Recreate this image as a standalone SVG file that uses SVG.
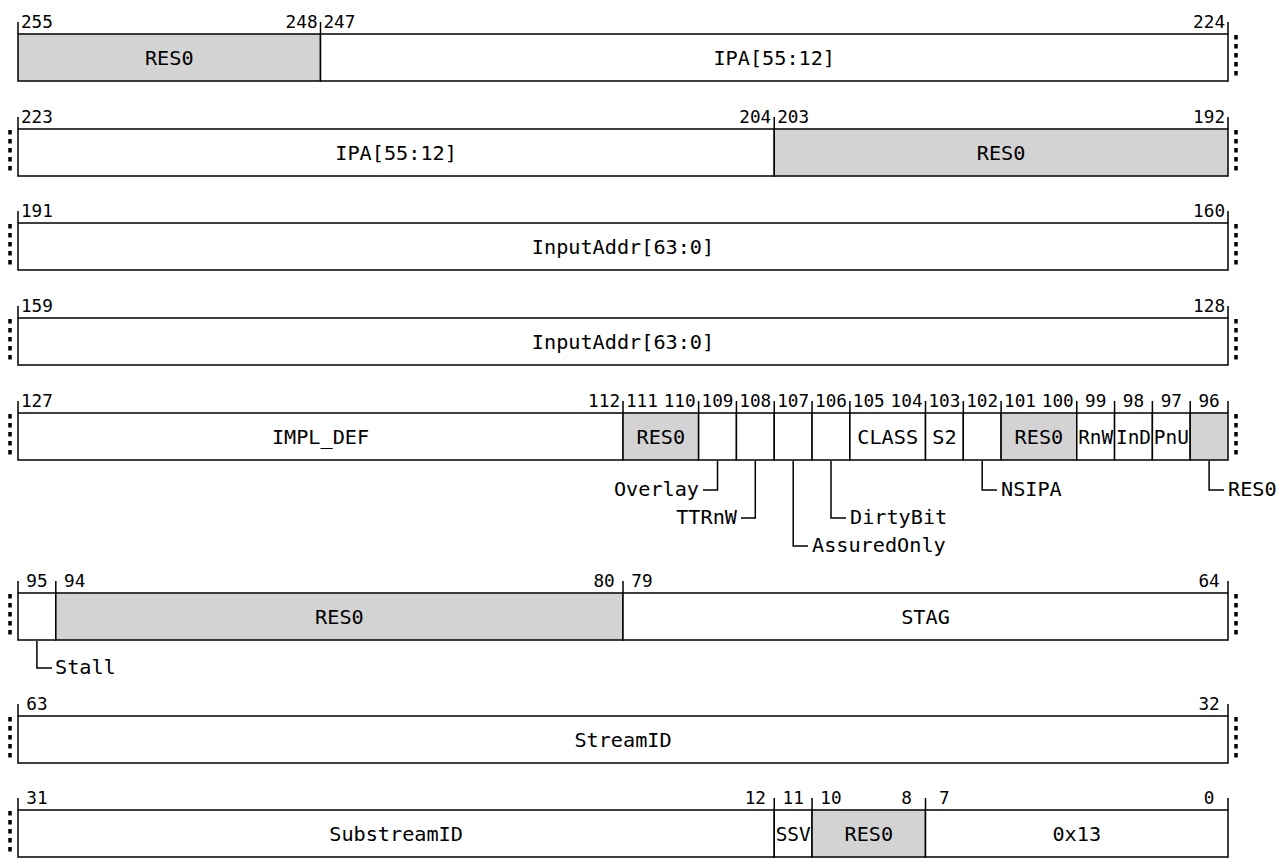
<svg xmlns="http://www.w3.org/2000/svg" width="1280" height="866" viewBox="0 0 1280 866">
<style>
.f{fill:#ffffff;stroke:#000;stroke-width:1.5}
.r{fill:#d3d3d3;stroke:#000;stroke-width:1.5}
.t{stroke:#000;stroke-width:1.5;fill:none}
.d{stroke:#000;stroke-width:3.5;stroke-dasharray:4.5 4.5;fill:none}
.n{font-family:"DejaVu Sans Mono",monospace;font-size:17.7px;fill:#000;text-anchor:middle}
.l{font-family:"DejaVu Sans Mono",monospace;font-size:20.2px;fill:#000;text-anchor:middle}
.c{font-family:"DejaVu Sans Mono",monospace;font-size:20.2px;fill:#000}
</style>
<rect width="1280" height="866" fill="#ffffff"/>

<g id="row1">
<rect class="r" x="18" y="34" width="302.5" height="47"/>
<rect class="f" x="320.5" y="34" width="907.5" height="47"/>
<path class="t" d="M18,22V34M320.5,22V34M1228,22V34"/>
<path class="d" d="M1236,35V79"/>
<text class="n" x="36.9" y="28">255</text><text class="n" x="301.6" y="28">248</text><text class="n" x="339.4" y="28">247</text><text class="n" x="1209.1" y="28">224</text>
<text class="l" x="169.25" y="65">RES0</text><text class="l" x="774.25" y="65">IPA[55:12]</text>
</g>

<g id="row2">
<rect class="f" x="18" y="129" width="756.25" height="47"/>
<rect class="r" x="774.25" y="129" width="453.75" height="47"/>
<path class="t" d="M18,117V129M774.25,117V129M1228,117V129"/>
<path class="d" d="M10,130V174M1236,130V174"/>
<text class="n" x="36.9" y="123">223</text><text class="n" x="755.3" y="123">204</text><text class="n" x="793.2" y="123">203</text><text class="n" x="1209.1" y="123">192</text>
<text class="l" x="396.1" y="160">IPA[55:12]</text><text class="l" x="1001.1" y="160">RES0</text>
</g>

<g id="row3">
<rect class="f" x="18" y="223" width="1210" height="47"/>
<path class="t" d="M18,211V223M1228,211V223"/>
<path class="d" d="M10,224V268M1236,224V268"/>
<text class="n" x="36.9" y="217">191</text><text class="n" x="1209.1" y="217">160</text>
<text class="l" x="623" y="254">InputAddr[63:0]</text>
</g>

<g id="row4">
<rect class="f" x="18" y="318" width="1210" height="47"/>
<path class="t" d="M18,306V318M1228,306V318"/>
<path class="d" d="M10,319V363M1236,319V363"/>
<text class="n" x="36.9" y="312">159</text><text class="n" x="1209.1" y="312">128</text>
<text class="l" x="623" y="349">InputAddr[63:0]</text>
</g>

<g id="row5">
<rect class="f" x="18" y="413" width="605" height="47"/>
<rect class="r" x="623" y="413" width="75.63" height="47"/>
<rect class="f" x="698.63" y="413" width="37.81" height="47"/>
<rect class="f" x="736.44" y="413" width="37.81" height="47"/>
<rect class="f" x="774.25" y="413" width="37.81" height="47"/>
<rect class="f" x="812.06" y="413" width="37.82" height="47"/>
<rect class="f" x="849.88" y="413" width="75.62" height="47"/>
<rect class="f" x="925.5" y="413" width="37.81" height="47"/>
<rect class="f" x="963.31" y="413" width="37.82" height="47"/>
<rect class="r" x="1001.13" y="413" width="75.62" height="47"/>
<rect class="f" x="1076.75" y="413" width="37.81" height="47"/>
<rect class="f" x="1114.56" y="413" width="37.82" height="47"/>
<rect class="f" x="1152.38" y="413" width="37.81" height="47"/>
<rect class="r" x="1190.19" y="413" width="37.81" height="47"/>
<path class="t" d="M18,401V413M623,401V413M698.63,401V413M736.44,401V413M774.25,401V413M812.06,401V413M849.88,401V413M925.5,401V413M963.31,401V413M1001.13,401V413M1076.75,401V413M1114.56,401V413M1152.38,401V413M1190.19,401V413M1228,401V413"/>
<path class="d" d="M10,414V458M1236,414V458"/>
<text class="n" x="36.9" y="407">127</text><text class="n" x="604.1" y="407">112</text><text class="n" x="641.9" y="407">111</text><text class="n" x="679.7" y="407">110</text><text class="n" x="717.5" y="407">109</text><text class="n" x="755.3" y="407">108</text><text class="n" x="793.2" y="407">107</text><text class="n" x="831" y="407">106</text><text class="n" x="868.8" y="407">105</text><text class="n" x="906.6" y="407">104</text><text class="n" x="944.4" y="407">103</text><text class="n" x="982.2" y="407">102</text><text class="n" x="1020" y="407">101</text><text class="n" x="1057.8" y="407">100</text><text class="n" x="1095.7" y="407">99</text><text class="n" x="1133.5" y="407">98</text><text class="n" x="1171.3" y="407">97</text><text class="n" x="1209.1" y="407">96</text>
<text class="l" x="320.5" y="444">IMPL_DEF</text><text class="l" x="660.8" y="444">RES0</text><text class="l" x="887.7" y="444">CLASS</text><text class="l" x="944.4" y="444">S2</text><text class="l" x="1038.9" y="444">RES0</text>
<text class="l" x="1095.7" y="444" textLength="35" lengthAdjust="spacingAndGlyphs">RnW</text><text class="l" x="1133.5" y="444" textLength="35" lengthAdjust="spacingAndGlyphs">InD</text><text class="l" x="1171.3" y="444" textLength="35" lengthAdjust="spacingAndGlyphs">PnU</text>
</g>

<g id="row6">
<rect class="f" x="18" y="593" width="37.81" height="47"/>
<rect class="r" x="55.81" y="593" width="567.19" height="47"/>
<rect class="f" x="623" y="593" width="605" height="47"/>
<path class="t" d="M18,581V593M55.81,581V593M623,581V593M1228,581V593"/>
<path class="d" d="M10,594V638M1236,594V638"/>
<text class="n" x="36.9" y="587">95</text><text class="n" x="74.7" y="587">94</text><text class="n" x="604.1" y="587">80</text><text class="n" x="641.9" y="587">79</text><text class="n" x="1209.1" y="587">64</text>
<text class="l" x="339.4" y="624">RES0</text><text class="l" x="925.5" y="624">STAG</text>
</g>

<g id="row7">
<rect class="f" x="18" y="716" width="1210" height="47"/>
<path class="t" d="M18,704V716M1228,704V716"/>
<path class="d" d="M10,717V761M1236,717V761"/>
<text class="n" x="36.9" y="710">63</text><text class="n" x="1209.1" y="710">32</text>
<text class="l" x="623" y="747">StreamID</text>
</g>

<g id="row8">
<rect class="f" x="18" y="810" width="756.25" height="47"/>
<rect class="f" x="774.25" y="810" width="37.81" height="47"/>
<rect class="r" x="812.06" y="810" width="113.44" height="47"/>
<rect class="f" x="925.5" y="810" width="302.5" height="47"/>
<path class="t" d="M18,798V810M774.25,798V810M812.06,798V810M925.5,798V810M1228,798V810"/>
<path class="d" d="M10,811V855"/>
<text class="n" x="36.9" y="804">31</text><text class="n" x="755.3" y="804">12</text><text class="n" x="793.2" y="804">11</text><text class="n" x="831" y="804">10</text><text class="n" x="906.6" y="804">8</text><text class="n" x="944.4" y="804">7</text><text class="n" x="1209.1" y="804">0</text>
<text class="l" x="396.1" y="841">SubstreamID</text><text class="l" x="793.2" y="841" textLength="35" lengthAdjust="spacingAndGlyphs">SSV</text><text class="l" x="868.8" y="841">RES0</text><text class="l" x="1076.75" y="841">0x13</text>
</g>

<g id="connectors">
<path class="t" d="M717.5,461V490H703"/>
<path class="t" d="M755.3,461V518H741"/>
<path class="t" d="M793.2,461V546H808"/>
<path class="t" d="M831,461V518H846"/>
<path class="t" d="M982.2,461V490H997"/>
<path class="t" d="M1209.1,461V490H1224"/>
<path class="t" d="M36.9,641V668H52"/>
</g>

<g id="callouts">
<text class="c" x="699" y="496" text-anchor="end">Overlay</text>
<text class="c" x="737" y="524" text-anchor="end">TTRnW</text>
<text class="c" x="812" y="552">AssuredOnly</text>
<text class="c" x="850" y="524">DirtyBit</text>
<text class="c" x="1001" y="496">NSIPA</text>
<text class="c" x="1228" y="496">RES0</text>
<text class="c" x="55" y="674">Stall</text>
</g>
</svg>
